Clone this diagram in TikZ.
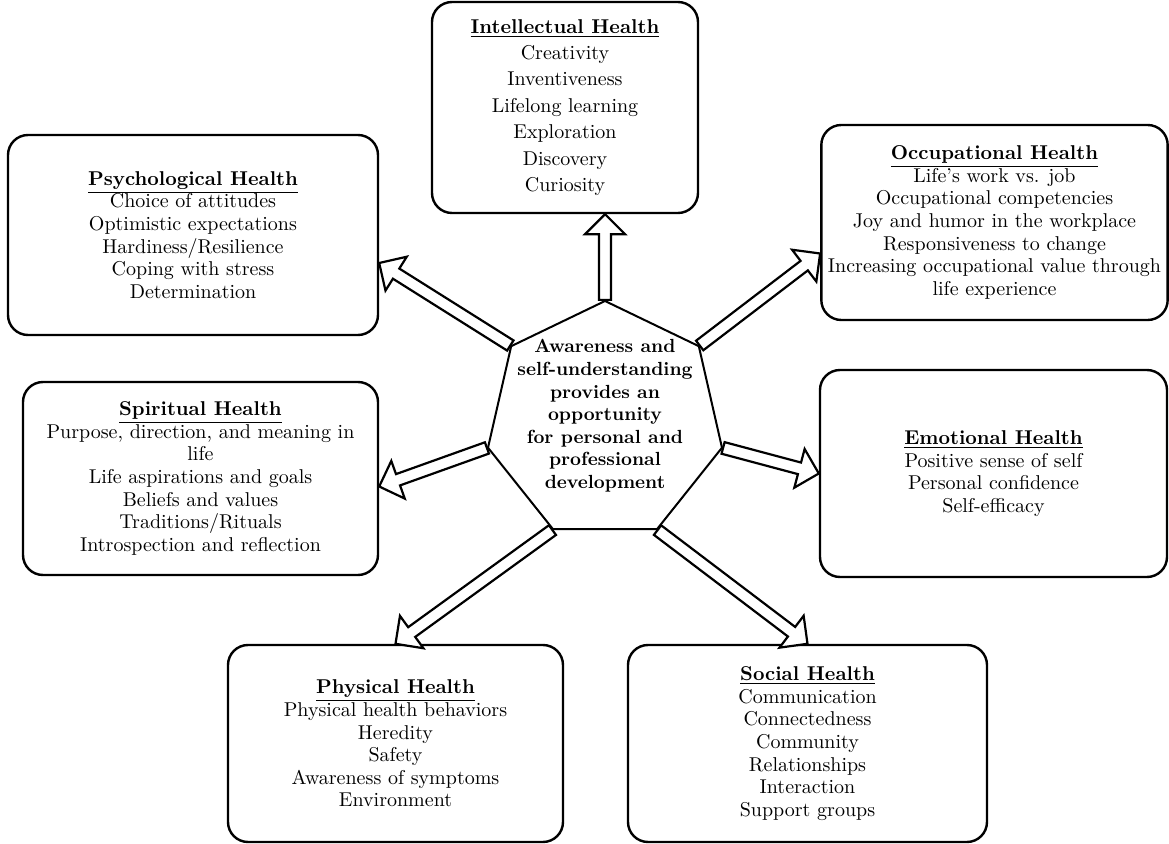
\documentclass[tikz,border=0pt]{standalone}
\usepackage{tikz}
\usetikzlibrary{calc,shapes.geometric}

% hollow double-line arrow from #1 to #2
\newcommand\fatarrow[2]{%
\coordinate (neck) at ($(#2)!10pt!(#1)$);
\draw[line width=1.1pt,fill=white,line join=miter] ($(#1)!3pt!90:(#2)$)--($(neck)!3pt!90:(#2)$)--($(neck)!10pt!90:(#2)$)--(#2)--($(neck)!10pt!-90:(#2)$)--($(neck)!3pt!-90:(#2)$)--($(#1)!3pt!-90:(#2)$)--cycle;}

\begin{document}
\begin{tikzpicture}[x=0.5pt,y=-0.5pt,
  box/.style={draw,line width=1.2pt,rounded corners=10pt,align=center,font=\fontsize{10}{11.3}\selectfont},
  hept/.style={draw,line width=1pt,regular polygon,regular polygon sides=7,minimum size=120pt,inner sep=0pt}]
\useasboundingbox (0,0) rectangle (1169,844);
% the seven boxes
\node[box,minimum width=133pt,minimum height=105.5pt,font=\fontsize{10}{13.2}\selectfont] (intel) at (565,107.5){\underline{\textbf{Intellectual Health}}\\Creativity\\Inventiveness\\Lifelong learning\\Exploration\\Discovery\\Curiosity};
\node[box,minimum width=185pt,minimum height=100pt] (psych) at (193,235){\underline{\textbf{Psychological Health}}\\Choice of attitudes\\Optimistic expectations\\Hardiness/Resilience\\Coping with stress\\Determination};
\node[box,minimum width=172.5pt,minimum height=97.5pt] (occ) at (994.5,222.5){\underline{\textbf{Occupational Health}}\\Life's work vs. job\\Occupational competencies\\Joy and humor in the workplace\\Responsiveness to change\\Increasing occupational value through\\life experience};
\node[box,minimum width=177.5pt,minimum height=96.5pt] (spir) at (200.5,478.5){\underline{\textbf{Spiritual Health}}\\Purpose, direction, and meaning in\\life\\Life aspirations and goals\\Beliefs and values\\Traditions/Rituals\\Introspection and reflection};
\node[box,minimum width=173.5pt,minimum height=103.5pt] (emo) at (993.5,473.5){\underline{\textbf{Emotional Health}}\\Positive sense of self\\Personal confidence\\Self-efficacy};
\node[box,minimum width=167.5pt,minimum height=98.5pt] (phys) at (395.5,743.5){\underline{\textbf{Physical Health}}\\Physical health behaviors\\Heredity\\Safety\\Awareness of symptoms\\Environment};
\node[box,minimum width=179.5pt,minimum height=98.5pt] (soc) at (807.5,743.5){\underline{\textbf{Social Health}}\\Communication\\Connectedness\\Community\\Relationships\\Interaction\\Support groups};
% centre
\node[hept] (hep) at (605,421){};
\coordinate (intelin) at (hep.corner 1 |- intel.south);
\coordinate (psychin) at ([yshift=-14pt]psych.east);
\coordinate (occin) at ([yshift=-15.5pt]occ.west);
\coordinate (spirin) at ([yshift=-4pt]spir.east);
\fatarrow{hep.corner 1}{intelin}
\fatarrow{hep.corner 2}{psychin}
\fatarrow{hep.corner 7}{occin}
\fatarrow{hep.corner 3}{spirin}
\fatarrow{hep.corner 6}{emo.west}
\fatarrow{hep.corner 4}{phys.north}
\fatarrow{hep.corner 5}{soc.north}
\node[align=center,font=\bfseries\fontsize{9.5}{11.3}\selectfont] (msg) at (605,416){Awareness and\\self-understanding\\provides an\\opportunity\\for personal and\\professional\\development};
\end{tikzpicture}
\end{document}
